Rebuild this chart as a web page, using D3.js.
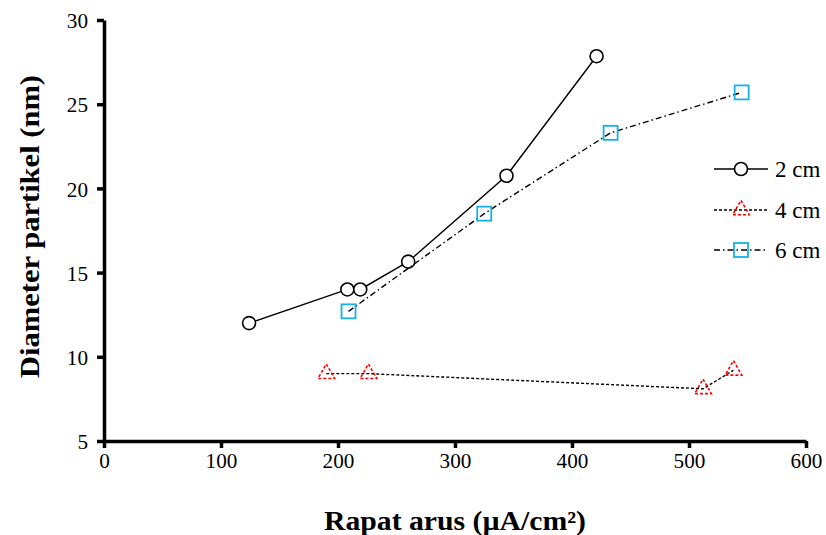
<!DOCTYPE html>
<html><head><meta charset="utf-8">
<script src="https://cdn.jsdelivr.net/npm/d3@7"></script>
<style>
html,body{margin:0;padding:0;background:#fff;}
svg{display:block;font-family:"Liberation Serif","Times New Roman",serif;}
</style></head>
<body>
<svg id="c" width="826" height="535"></svg>
<script>
// Data
const seriesNames = ["2 cm", "4 cm", "6 cm"];
const x2cm = [124, 208, 219, 260, 344, 421];
const y2cm = [12.0, 14.0, 14.0, 15.65, 20.75, 27.85];
const x4cm = [190, 226, 512, 538];
const y4cm = [9.0, 9.0, 8.1, 9.2];
const x6cm = [209, 325, 433, 545];
const y6cm = [12.7, 18.5, 23.3, 25.7];
const xTicks = [0, 100, 200, 300, 400, 500, 600];
const yTicks = [5, 10, 15, 20, 25, 30];
const xTitle = "Rapat arus (\u00b5A/cm\u00b2)";
const yTitle = "Diameter partikel (nm)";

const svg = d3.select("#c");
const x = d3.scaleLinear().domain([0, 600]).range([104, 806]);
const y = d3.scaleLinear().domain([5, 30]).range([441, 20]);

// Axes
const xAxis = svg.append("g").attr("transform", `translate(0,${y(5)})`)
  .call(d3.axisBottom(x).tickValues(xTicks).tickSize(7).tickSizeOuter(0).tickPadding(9));
const yAxis = svg.append("g").attr("transform", `translate(${x(0)},0)`)
  .call(d3.axisLeft(y).tickValues(yTicks).tickSize(7).tickSizeOuter(0).tickPadding(9));
[xAxis, yAxis].forEach(g => {
  g.select(".domain").attr("stroke", "#000").attr("stroke-width", 3.5);
  g.selectAll(".tick line").attr("stroke", "#000").attr("stroke-width", 3.5);
  g.selectAll(".tick text").attr("fill", "#000").style("font-size", "22px")
    .style("font-family", "'Liberation Serif','Times New Roman',serif")
    .attr("textLength", d => String(d).length * 10.6)
    .attr("lengthAdjust", "spacingAndGlyphs");
});
yAxis.selectAll(".tick text").attr("dy", "0.35em");
xAxis.selectAll(".tick text").attr("dy", "0.5em");

// Titles
svg.append("text").attr("x", x(300) + 0).attr("y", 530).attr("text-anchor", "middle")
  .style("font-size", "27px").style("font-weight", "bold")
  .attr("textLength", 262).attr("lengthAdjust", "spacingAndGlyphs").text(xTitle);
svg.append("text").attr("transform", `translate(39,${(75 + 378) / 2}) rotate(-90)`)
  .attr("text-anchor", "middle").style("font-size", "28px").style("font-weight", "bold")
  .attr("textLength", 303).attr("lengthAdjust", "spacingAndGlyphs").text(yTitle);

const line = d3.line().x(d => x(d[0])).y(d => y(d[1]));
const z = (a, b) => a.map((v, i) => [v, b[i]]);
const d2 = z(x2cm, y2cm), d4 = z(x4cm, y4cm), d6 = z(x6cm, y6cm);

const styles = [
  {data: d2, dash: null, color: "#000", marker: "circle"},
  {data: d4, dash: "3,2", color: "#ff0000", marker: "triangle"},
  {data: d6, dash: "6,3,1.5,3", color: "#18b0e8", marker: "square"}
];

function drawMarker(g, type, cx, cy, color) {
  if (type === "circle") {
    g.append("circle").attr("cx", cx).attr("cy", cy).attr("r", 6.5)
      .attr("fill", "#fff").attr("stroke", "#000").attr("stroke-width", 1.6);
  } else if (type === "triangle") {
    g.append("path").attr("d", d3.symbol(d3.symbolTriangle, 120)())
      .attr("transform", `translate(${cx},${cy})`)
      .attr("fill", "none").attr("stroke", color).attr("stroke-width", 1.6).attr("stroke-dasharray", "3,2");
  } else {
    g.append("rect").attr("x", cx - 7).attr("y", cy - 7).attr("width", 14).attr("height", 14)
      .attr("fill", "none").attr("stroke", color).attr("stroke-width", 1.8);
  }
}

styles.forEach(s => {
  svg.append("path").datum(s.data).attr("d", line).attr("fill", "none")
    .attr("stroke", "#000").attr("stroke-width", 1.4)
    .attr("stroke-dasharray", s.dash);
  const g = svg.append("g");
  s.data.forEach(d => drawMarker(g, s.marker, x(d[0]), y(d[1]), s.color));
});

// Legend
const legY = [169, 210, 250];
styles.forEach((s, i) => {
  const g = svg.append("g");
  g.append("line").attr("x1", 714).attr("x2", 768).attr("y1", legY[i]).attr("y2", legY[i])
    .attr("stroke", "#000").attr("stroke-width", 1.4).attr("stroke-dasharray", s.dash);
  drawMarker(g, s.marker, 741, legY[i], s.color);
  g.append("text").attr("x", 775).attr("y", legY[i]).attr("dy", "0.35em")
    .style("font-size", "23px").text(seriesNames[i]);
});
</script>
</body></html>
